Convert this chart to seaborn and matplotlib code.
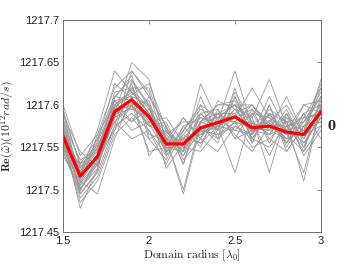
import numpy as np
import pandas as pd
import matplotlib
matplotlib.use("Agg")
import matplotlib.pyplot as plt
import seaborn as sns

# domain radius in units of lambda_0
radius = [1.5, 1.6, 1.7, 1.8, 1.9, 2.0, 2.1, 2.2, 2.3, 2.4, 2.5, 2.6, 2.7, 2.8, 2.9, 3.0]

# Re(omega) for every realisation, given in 1e-3 above 1217
runs = [
    [575, 520, 545, 600, 615, 590, 560, 548, 580, 572, 595, 568, 582, 560, 570, 600],
    [550, 505, 530, 585, 598, 578, 545, 560, 565, 590, 578, 580, 565, 575, 555, 585],
    [590, 530, 560, 610, 630, 600, 570, 540, 590, 570, 610, 560, 590, 555, 580, 610],
    [545, 495, 520, 575, 590, 570, 540, 565, 555, 585, 570, 590, 560, 580, 545, 575],
    [600, 540, 565, 620, 640, 610, 575, 530, 600, 560, 620, 555, 600, 550, 585, 620],
    [555, 485, 510, 565, 585, 560, 535, 575, 550, 595, 560, 595, 555, 590, 540, 570],
    [570, 525, 550, 595, 620, 620, 560, 500, 580, 600, 600, 600, 570, 560, 600, 590],
    [560, 500, 535, 580, 600, 545, 550, 585, 560, 545, 575, 565, 610, 570, 520, 600],
    [580, 535, 548, 605, 580, 595, 565, 545, 625, 580, 640, 575, 580, 600, 565, 630],
    [548, 510, 495, 560, 610, 600, 525, 555, 570, 565, 580, 550, 560, 545, 575, 580],
    [565, 478, 525, 590, 650, 630, 555, 560, 585, 575, 595, 585, 630, 575, 550, 605],
    [585, 515, 540, 610, 605, 575, 580, 535, 560, 590, 565, 545, 575, 565, 590, 560],
    [540, 505, 565, 600, 595, 585, 545, 570, 600, 585, 600, 580, 540, 585, 560, 595],
    [595, 528, 535, 585, 625, 560, 570, 550, 545, 570, 585, 620, 585, 555, 580, 615],
    [558, 490, 515, 570, 600, 605, 540, 565, 590, 595, 560, 570, 565, 595, 555, 585],
    [572, 520, 570, 640, 615, 590, 560, 495, 575, 555, 610, 565, 595, 580, 510, 600],
    [552, 530, 545, 595, 570, 580, 585, 555, 565, 580, 590, 600, 575, 560, 570, 625],
    [578, 500, 530, 575, 640, 615, 550, 545, 610, 565, 575, 560, 550, 575, 585, 590],
    [562, 512, 555, 605, 610, 540, 565, 580, 580, 600, 605, 575, 570, 610, 565, 575],
    [588, 545, 528, 590, 595, 600, 545, 560, 555, 575, 520, 590, 585, 570, 600, 605],
    [546, 498, 540, 615, 620, 595, 560, 540, 570, 590, 590, 555, 600, 545, 575, 585],
    [568, 522, 548, 580, 560, 570, 530, 570, 595, 585, 600, 585, 520, 590, 560, 595],
    [583, 508, 532, 598, 612, 625, 572, 552, 575, 560, 580, 600, 578, 565, 545, 610],
    [557, 518, 560, 588, 602, 588, 548, 562, 565, 575, 570, 565, 590, 580, 570, 580],
    [573, 495, 522, 608, 635, 565, 558, 585, 560, 605, 595, 570, 580, 555, 590, 600],
    [548, 532, 552, 595, 580, 610, 575, 530, 590, 570, 615, 580, 565, 590, 550, 590],
    [592, 510, 538, 570, 628, 598, 542, 575, 585, 580, 585, 595, 575, 575, 580, 595],
    [566, 526, 556, 625, 608, 580, 562, 545, 580, 590, 600, 560, 590, 565, 565, 620],
    [560, 502, 525, 600, 618, 590, 552, 558, 568, 575, 585, 578, 588, 570, 575, 610],
    [576, 515, 542, 592, 600, 575, 568, 550, 578, 585, 580, 572, 570, 580, 585, 588],
]

# ensemble average (red curve)
mean_re = [1217.563, 1217.516, 1217.539, 1217.592, 1217.606, 1217.586, 1217.554, 1217.554,
           1217.573, 1217.579, 1217.586, 1217.573, 1217.575, 1217.568, 1217.565, 1217.592]

rows = []
for k, run in enumerate(runs):
    for r, v in zip(radius, run):
        rows.append({"run": k, "radius": r, "re": 1217 + v / 1000})
df = pd.DataFrame(rows)
df_mean = pd.DataFrame({"radius": radius, "re": mean_re})

sns.set_style("white")
plt.rcParams["mathtext.fontset"] = "cm"
plt.rcParams["font.family"] = ["Liberation Sans", "DejaVu Sans"]

fig = plt.figure(figsize=(3.57, 2.68), dpi=100)
ax = fig.add_axes([0.1765, 0.134, 0.7225, 0.791])

sns.lineplot(data=df, x="radius", y="re", units="run", estimator=None,
             color="#9a9a9a", linewidth=0.6, ax=ax)
sns.lineplot(data=df_mean, x="radius", y="re", color="#ff0000", linewidth=2.3, ax=ax)

ax.set_xlim(1.5, 3)
ax.set_ylim(1217.45, 1217.7)
ax.set_xticks([1.5, 2, 2.5, 3])
ax.set_xticklabels(["1.5", "2", "2.5", "3"])
ax.set_yticks([1217.45, 1217.5, 1217.55, 1217.6, 1217.65, 1217.7])
ax.set_yticklabels(["1217.45", "1217.5", "1217.55", "1217.6", "1217.65", "1217.7"])
ax.tick_params(direction="in", length=3, width=0.6, labelsize=8, colors="#222222",
               top=True, right=True, pad=3)
ax.tick_params(axis="both", color="#777777")
for s in ax.spines.values():
    s.set_color("#6e6e6e")
    s.set_linewidth(0.7)

ax.set_xlabel(r"$\mathrm{Domain\ radius\ }[\lambda_0]$", fontsize=8.5, labelpad=1)
ax.set_ylabel(r"$\mathbf{Re}(\tilde{\omega})(10^{12}rad/s)$", fontsize=8.5, labelpad=2)
ax.text(3.04, 1217.575, "0", fontsize=8.5, fontweight="bold", family="DejaVu Serif",
        va="center", ha="left")

fig.savefig("out.png", dpi=100)
